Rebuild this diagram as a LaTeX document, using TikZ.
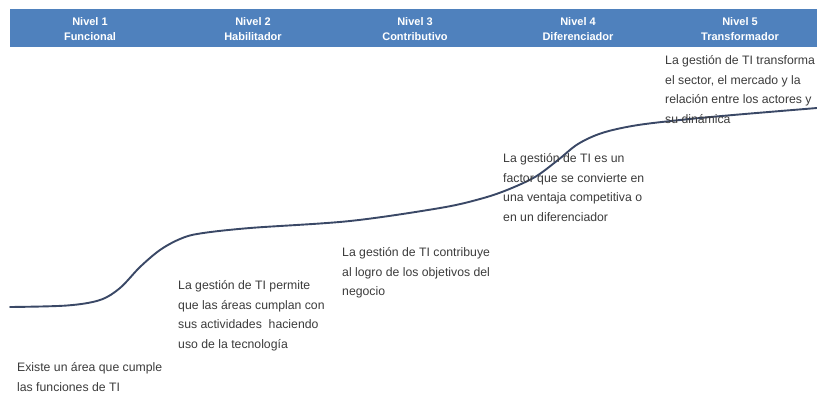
\documentclass[tikz,border=0pt]{standalone}
\usepackage{fontspec}
\setmainfont{Liberation Sans}
\definecolor{barblue}{RGB}{79,129,189}
\definecolor{curvecol}{RGB}{58,72,102}
\definecolor{txtcol}{RGB}{60,60,60}
\tikzset{
  hdr/.style={text=white, font=\fontsize{11}{15}\selectfont\bfseries, align=center, inner sep=0pt},
  desc/.style={text=txtcol, font=\fontsize{12.25}{19.5}\selectfont, align=left, anchor=north west, inner sep=0pt},
  curveline/.style={draw=curvecol, line width=1.9pt, line cap=round}
}
\begin{document}
\begin{tikzpicture}[x=1pt,y=-1pt]
\useasboundingbox (0,0) rectangle (817,394);
\fill[white] (0,0) rectangle (817,394);
% header bar
\fill[barblue] (10,9) rectangle (817,47);
\node[hdr] (h1) at (90,29.5) {Nivel 1\\Funcional};
\node[hdr] (h2) at (253,29.5) {Nivel 2\\Habilitador};
\node[hdr] (h3) at (415,29.5) {Nivel 3\\Contributivo};
\node[hdr] (h4) at (578,29.5) {Nivel 4\\Diferenciador};
\node[hdr] (h5) at (740,29.5) {Nivel 5\\Transformador};
% curve
\draw[curveline] plot[smooth, tension=0.55] coordinates {
 (10,307) (67,305.5) (100,300) (120,288) (140,267) (160,250) (180,239) (200,233.5)
 (250,228) (350,221) (440,208) (480,199) (507,190) (535,177) (558,160) (578,144)
 (602,133) (635,125.5) (680,120) (733,115) (817,108)};
% descriptions
\node[desc] (d1) at (17,357.9) {\strut Existe un área que cumple\\las funciones de TI};
\node[desc] (d2) at (178,275.9) {\strut La gestión de TI permite\\que las áreas cumplan con\\sus actividades\ \ haciendo\\uso de la tecnología};
\node[desc] (d3) at (342,242.9) {\strut La gestión de TI contribuye\\al logro de los objetivos del\\negocio};
\node[desc] (d4) at (503,148.9) {\strut La gestión de TI es un\\factor que se convierte en\\una ventaja competitiva o\\en un diferenciador};
\node[desc] (d5) at (665,50.9) {\strut La gestión de TI transforma\\el sector, el mercado y la\\relación entre los actores y\\su dinámica};
\end{tikzpicture}
\end{document}
